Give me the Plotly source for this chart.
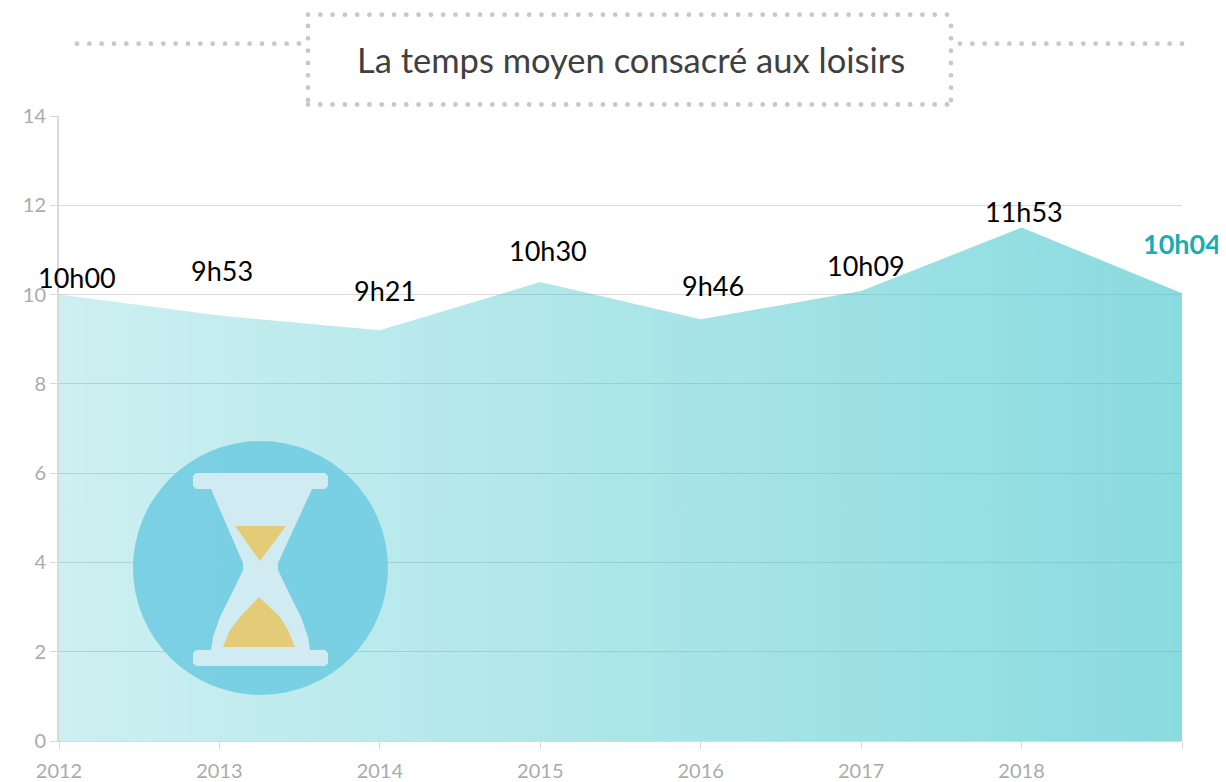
import plotly.graph_objects as go

years = [2012, 2013, 2014, 2015, 2016, 2017, 2018, 2019]
year_labels = ["2012", "2013", "2014", "2015", "2016", "2017", "2018", ""]
values = [10.0, 9.53, 9.2, 10.28, 9.45, 10.08, 11.5, 10.03]
value_labels = ["10h00", "9h53", "9h21", "10h30", "9h46", "10h09", "11h53", "10h04"]
title_text = "La temps moyen consacré aux loisirs"

# the page places the figure 8 px from the window's top-left corner
OFFSET = 8
W, H = 1226, 782
L, R, T, B = 59, 1182, 116, 741
FONT = "Lato"
GRID = "#D9D9D9"
MUTED = "#ABABAB"
BASE = "60,195,202"

# label placement relative to each point, in pixels
label_dx = [18, 3, 5, 8, 12, 5, 2, 0]
label_dy = [17, 45, 40, 32, 34, 26, 16, 50]


def px(x):
    return (x - L) / (R - L)


def py(y):
    return (B - y) / (B - T)


def path(points):
    return "M" + "L".join(f"{px(x):.5f},{py(y):.5f}" for x, y in points) + "Z"


shapes = []


def dot_line(x0, y0, x1, y1, step=12.28, d=4.8):
    dist = ((x1 - x0) ** 2 + (y1 - y0) ** 2) ** 0.5
    n = int(round(dist / step))
    for i in range(n + 1):
        x = x0 + (x1 - x0) * i / max(n, 1)
        y = y0 + (y1 - y0) * i / max(n, 1)
        shapes.append(dict(type="circle", xref="paper", yref="paper",
                           x0=px(x - d / 2), x1=px(x + d / 2), y0=py(y + d / 2), y1=py(y - d / 2),
                           fillcolor="#C8C8C8", line=dict(width=0), layer="above"))


dot_line(308, 14.7, 947, 14.7)
dot_line(308, 104.5, 947, 104.5)
dot_line(308, 26, 308, 100)
dot_line(951, 26, 951, 100)
dot_line(77, 43.7, 299, 43.7)
dot_line(960, 43.7, 1182, 43.7)


def add_path(points, color, op=0.88):
    shapes.append(dict(type="path", xref="paper", yref="paper", path=path(points),
                       fillcolor=color, opacity=op, line=dict(width=0), layer="above"))


def bar(x0, x1, y0, y1, c=3):
    return [(x0 + c, y0), (x1 - c, y0), (x1, y0 + c), (x1, y1 - c), (x1 - c, y1), (x0 + c, y1), (x0, y1 - c), (x0, y0 + c)]


# hourglass icon
shapes.append(dict(type="circle", xref="paper", yref="paper",
                   x0=px(133), x1=px(388), y0=py(695), y1=py(441),
                   fillcolor="#74CDE2", opacity=0.92, line=dict(width=0), layer="above"))
GLASS = "#DCEEF3"
add_path([(211, 489), (312, 489), (278, 563), (278, 570), (286, 587), (301, 617), (308, 637), (310, 650),
          (211, 650), (213, 637), (220, 617), (235, 587), (243, 570), (243, 563)], GLASS)
add_path(bar(193, 328, 473, 489), GLASS)
add_path(bar(193, 328, 650, 666), GLASS)
add_path([(235, 526), (286, 526), (260, 561)], "#E4CB77", 1)
add_path([(223, 647), (230, 630), (240, 617), (259, 597), (280, 617), (288, 630), (295, 647)], "#E4CB77", 1)

annotations = [
    dict(x=x, y=v, xref="x", yref="y",
         text=f"<b>{t}</b>" if i == 7 else t, showarrow=False, xshift=dx, yshift=dy,
         font=dict(family=FONT, size=27, color="#17AEB5" if i == 7 else "#000000"),
         xanchor="center", yanchor="middle")
    for i, (x, v, t, dx, dy) in enumerate(zip(years, values, value_labels, label_dx, label_dy))
]
annotations.append(dict(x=px(631), y=py(59), xref="paper", yref="paper", text=title_text, showarrow=False,
                        font=dict(family=FONT, size=34.5, color="#404040"),
                        xanchor="center", yanchor="middle"))

fig = go.Figure(go.Scatter(
    x=years, y=values, mode="lines", fill="tozeroy",
    line=dict(width=0, color="rgba(0,0,0,0)"),
    fillgradient=dict(type="horizontal", colorscale=[[0, f"rgba({BASE},0.256)"], [1, f"rgba({BASE},0.6)"]]),
    hoverinfo="skip", showlegend=False,
))

fig.update_layout(
    width=W - OFFSET, height=H - OFFSET, autosize=False,
    margin=dict(l=L - OFFSET, r=W - R, t=T - OFFSET, b=H - B, autoexpand=False),
    paper_bgcolor="white", plot_bgcolor="white",
    font=dict(family=FONT, size=20, color=MUTED),
    shapes=shapes, annotations=annotations,
    xaxis=dict(range=[2012, 2019], tickmode="array", tickvals=years, ticktext=year_labels,
               showgrid=False, ticks="outside", ticklen=7, tickcolor=GRID, tickwidth=1,
               ticklabelstandoff=5,
               zeroline=False, showline=True, linecolor=GRID, linewidth=1,
               tickfont=dict(family=FONT, size=20, color=MUTED)),
    yaxis=dict(range=[0, 14], tickmode="array", tickvals=[0, 2, 4, 6, 8, 10, 12, 14],
               showgrid=True, gridcolor=GRID, gridwidth=1, ticks="outside", ticklen=7,
               tickcolor=GRID, tickwidth=1, zeroline=False, showline=True, linecolor=GRID, linewidth=2,
               tickfont=dict(family=FONT, size=20, color=MUTED)),
)

fig.write_html("out.html")
